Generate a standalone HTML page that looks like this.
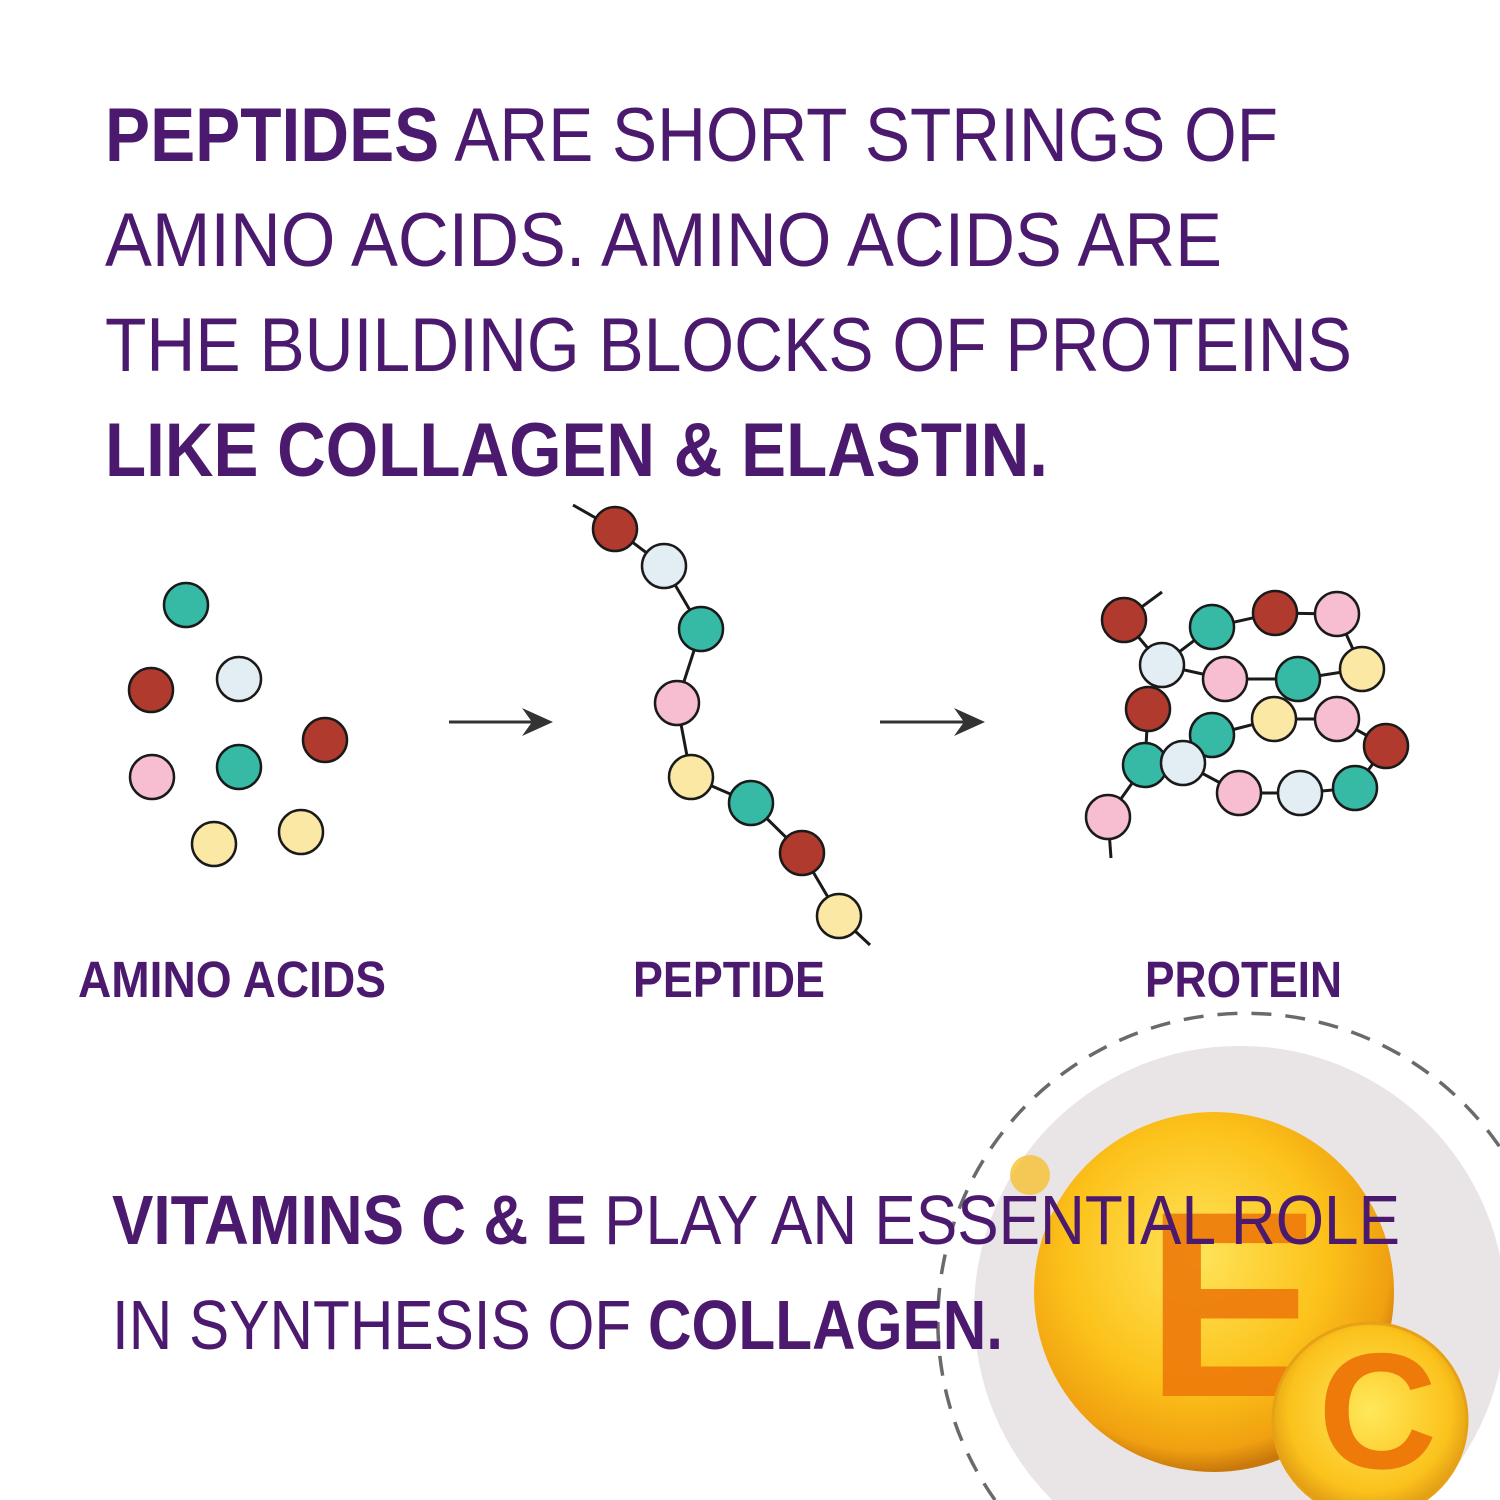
<!DOCTYPE html>
<html><head><meta charset="utf-8"><style>html,body{margin:0;padding:0;background:#fff;width:1500px;height:1500px;overflow:hidden}svg{display:block}</style></head>
<body>
<svg width="1500" height="1500" viewBox="0 0 1500 1500" xmlns="http://www.w3.org/2000/svg" font-family="'Liberation Sans', sans-serif">
<defs>
<radialGradient id="gE" cx="0.45" cy="0.4" r="0.6">
<stop offset="0" stop-color="#ffe45a"/><stop offset="0.6" stop-color="#fcc21a"/><stop offset="0.9" stop-color="#f0a010"/><stop offset="1" stop-color="#c8780c"/>
</radialGradient>
<radialGradient id="gC" gradientUnits="userSpaceOnUse" cx="1370" cy="1410" r="116">
<stop offset="0" stop-color="#ffe85a"/><stop offset="0.7" stop-color="#fbc21c"/><stop offset="1" stop-color="#d48a10"/>
</radialGradient>
</defs>
<rect width="1500" height="1500" fill="#fff"/>

<path d="M995,1500 A308 308 0 1 1 1500,1147.3" fill="none" stroke="#6a6a6a" stroke-width="3.5" stroke-dasharray="20 14"/>
<path d="M1052,1500 A266 266 0 1 1 1428,1500 Z" fill="#e9e5e6"/>
<circle cx="1030" cy="1175" r="20" fill="#f6c030" opacity="0.8"/>
<circle cx="1214" cy="1292" r="180" fill="url(#gE)"/>
<text x="1145" y="1396" font-size="265" font-weight="bold" fill="#ee7a0a" opacity="0.9">E</text>
<path d="M1315,1500 A97 97 0 1 1 1425,1500 Z" fill="url(#gC)"/>
<path d="M1315,1500 A97 97 0 1 1 1425,1500" fill="none" stroke="#e7a114" stroke-width="3"/>
<text x="1318" y="1468" font-size="165" font-weight="bold" fill="#ee7a0a">C</text>

<g fill="#4b1a6e">
<text x="105" y="161" font-size="76" textLength="1173" lengthAdjust="spacingAndGlyphs"><tspan font-weight="bold">PEPTIDES</tspan> ARE SHORT STRINGS OF</text>
<text x="105" y="266" font-size="76" textLength="1117" lengthAdjust="spacingAndGlyphs">AMINO ACIDS. AMINO ACIDS ARE</text>
<text x="105" y="371" font-size="76" textLength="1247" lengthAdjust="spacingAndGlyphs">THE BUILDING BLOCKS OF PROTEINS</text>
<text x="105" y="476" font-size="76" font-weight="bold" textLength="943" lengthAdjust="spacingAndGlyphs">LIKE COLLAGEN &amp; ELASTIN.</text>

<text x="78" y="997" font-size="51" font-weight="bold" textLength="308" lengthAdjust="spacingAndGlyphs">AMINO ACIDS</text>
<text x="633" y="997" font-size="51" font-weight="bold" textLength="192" lengthAdjust="spacingAndGlyphs">PEPTIDE</text>
<text x="1145" y="997" font-size="51" font-weight="bold" textLength="197" lengthAdjust="spacingAndGlyphs">PROTEIN</text>

<text x="112" y="1244" font-size="70" textLength="1288" lengthAdjust="spacingAndGlyphs"><tspan font-weight="bold">VITAMINS C &amp; E</tspan> PLAY AN ESSENTIAL ROLE</text>
<text x="112" y="1349" font-size="70" textLength="891" lengthAdjust="spacingAndGlyphs">IN SYNTHESIS OF <tspan font-weight="bold">COLLAGEN.</tspan></text>
</g>

<g stroke="#333" stroke-width="3">
<line x1="449" y1="722" x2="540" y2="722"/>
<line x1="880" y1="722" x2="972" y2="722"/>
</g>
<polygon points="553,722 522,708 532,722 522,736" fill="#333"/>
<polygon points="985,722 954,708 964,722 954,736" fill="#333"/>

<g stroke="#1a1a1a" stroke-width="2.5">
<circle cx="186" cy="605" r="22" fill="#36b9a5"/>
<circle cx="151" cy="690" r="22" fill="#b03a2e"/>
<circle cx="239" cy="679" r="22" fill="#e2eef4"/>
<circle cx="325" cy="740" r="22" fill="#b03a2e"/>
<circle cx="152" cy="777" r="22" fill="#f7bdd0"/>
<circle cx="239" cy="767" r="22" fill="#36b9a5"/>
<circle cx="214" cy="844" r="22" fill="#fbe8a4"/>
<circle cx="301" cy="832" r="22" fill="#fbe8a4"/>
</g>

<polyline points="573,505 615,529 664,566 701,629 677,703 691,777 751,803 802,853 839,916 870,945" fill="none" stroke="#1a1a1a" stroke-width="3"/>
<g stroke="#1a1a1a" stroke-width="2.5">
<circle cx="615" cy="529" r="22" fill="#b03a2e"/>
<circle cx="664" cy="566" r="22" fill="#e2eef4"/>
<circle cx="701" cy="629" r="22" fill="#36b9a5"/>
<circle cx="677" cy="703" r="22" fill="#f7bdd0"/>
<circle cx="691" cy="777" r="22" fill="#fbe8a4"/>
<circle cx="751" cy="803" r="22" fill="#36b9a5"/>
<circle cx="802" cy="853" r="22" fill="#b03a2e"/>
<circle cx="839" cy="916" r="22" fill="#fbe8a4"/>
</g>

<g fill="none" stroke="#1a1a1a" stroke-width="3">
<polyline points="1162,592 1124,620 1162,665 1212,627 1275,613 1337,614 1362,669 1298,679 1225,679 1162,665 1148,709 1145,765 1108,817 1111,858"/>
<polyline points="1183,763 1212,735 1274,719 1337,719 1386,746 1355,788 1300,793 1239,793 1183,763"/>
</g>
<g stroke="#1a1a1a" stroke-width="2.5">
<circle cx="1124" cy="620" r="22" fill="#b03a2e"/>
<circle cx="1212" cy="627" r="22" fill="#36b9a5"/>
<circle cx="1275" cy="613" r="22" fill="#b03a2e"/>
<circle cx="1337" cy="614" r="22" fill="#f7bdd0"/>
<circle cx="1362" cy="669" r="22" fill="#fbe8a4"/>
<circle cx="1298" cy="679" r="22" fill="#36b9a5"/>
<circle cx="1225" cy="679" r="22" fill="#f7bdd0"/>
<circle cx="1148" cy="709" r="22" fill="#b03a2e"/>
<circle cx="1162" cy="665" r="22" fill="#e2eef4"/>
<circle cx="1212" cy="735" r="22" fill="#36b9a5"/>
<circle cx="1274" cy="719" r="22" fill="#fbe8a4"/>
<circle cx="1337" cy="719" r="22" fill="#f7bdd0"/>
<circle cx="1386" cy="746" r="22" fill="#b03a2e"/>
<circle cx="1355" cy="788" r="22" fill="#36b9a5"/>
<circle cx="1300" cy="793" r="22" fill="#e2eef4"/>
<circle cx="1239" cy="793" r="22" fill="#f7bdd0"/>
<circle cx="1145" cy="765" r="22" fill="#36b9a5"/>
<circle cx="1183" cy="763" r="22" fill="#e2eef4"/>
<circle cx="1108" cy="817" r="22" fill="#f7bdd0"/>
</g>
</svg>
</body></html>
